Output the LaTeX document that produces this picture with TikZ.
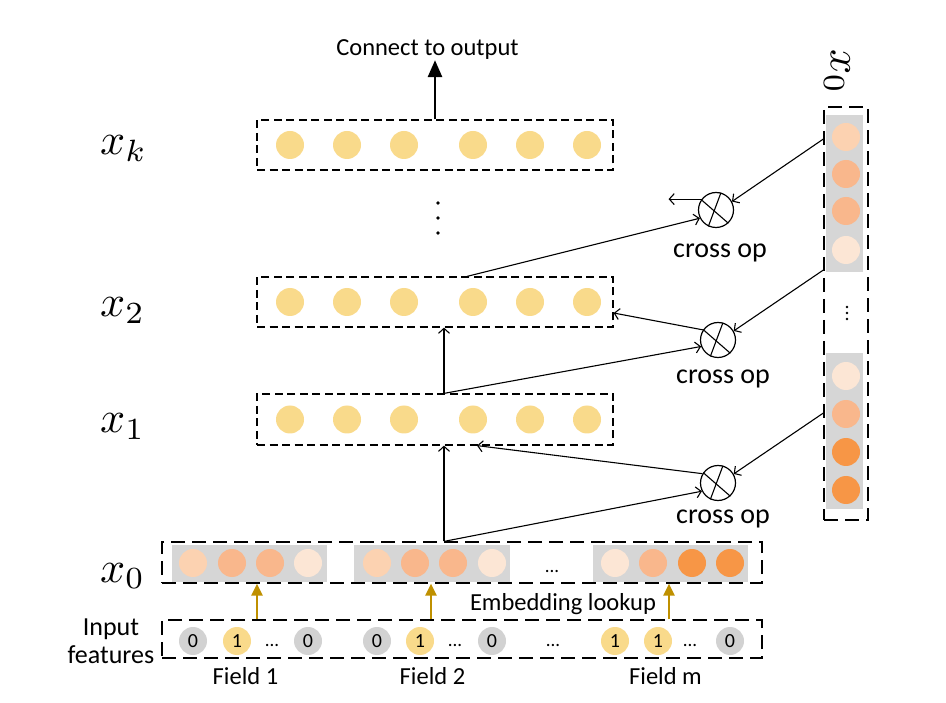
\documentclass[tikz,border=0pt]{standalone}
\usepackage[no-math]{fontspec}
\setmainfont{Carlito}
\usetikzlibrary{arrows.meta}
\definecolor{cyel}{HTML}{F9DA8B}
\definecolor{cgray}{HTML}{D6D6D6}
\definecolor{cig}{HTML}{D2D2D2}
\definecolor{ocr}{HTML}{FCE6D5}
\definecolor{opl}{HTML}{FCD2B1}
\definecolor{omd}{HTML}{F9B78C}
\definecolor{odk}{HTML}{F79646}
\definecolor{cgold}{HTML}{BF9000}
\newcommand{\bigmath}[1]{\scalebox{4.4}{$#1$}}
\begin{document}
\begin{tikzpicture}[x=1pt,y=-1pt,
  dbox/.style={draw, dash pattern=on 8pt off 4.5pt, line width=1.2pt, inner sep=0},
  dboxL/.style={draw, dash pattern=on 14pt off 7pt, line width=1.2pt, inner sep=0},
  ybub/.style={circle, fill=cyel, minimum size=28pt, inner sep=0},
  obub/.style={circle, fill=#1, minimum size=28pt, inner sep=0},
  ibub/.style={circle, fill=#1, minimum size=28pt, inner sep=0, font=\fontsize{20}{21}\selectfont},
  gbar/.style={fill=cgray, inner sep=0},
  arr/.style={line width=1.1pt, -{Straight Barb[length=5pt,width=11pt]}},
  garr/.style={cgold, line width=2.2pt, -{Triangle[length=12pt,width=11pt]}},
  txt/.style={font=\fontsize{24.5}{26}\selectfont, inner sep=0, anchor=base},
  optxt/.style={font=\fontsize{28}{30}\selectfont, inner sep=0, anchor=base},
  dig/.style={font=\fontsize{19}{20}\selectfont, inner sep=0, anchor=base},
  mlab/.style={anchor=base west, inner sep=0},
  xop/.style={circle, draw, line width=1.2pt, minimum size=35pt, inner sep=0}]
\useasboundingbox (0,0) rectangle (946,703);

% gray bars
\node[gbar, minimum width=155, minimum height=37] (r1) at (249.5,563.5) {};
\node[gbar, minimum width=156, minimum height=37] (r2) at (432,563.5) {};
\node[gbar, minimum width=155, minimum height=37] (r3) at (670.5,563.5) {};
\node[gbar, minimum width=37, minimum height=157] (g1) at (844.5,193.5) {};
\node[gbar, minimum width=37, minimum height=156] (g2) at (844.5,431) {};

% embedding circles
\foreach \x/\c [count=\i] in {193/opl,232/omd,270/omd,308/ocr,377/opl,415/omd,453/omd,492/ocr,615/ocr,653/omd,692/odk,730/odk}
  \node[obub=\c] (e\i) at (\x,563) {};
\foreach \y/\c [count=\i] in {137/opl,174/omd,211/omd,250/ocr,376/ocr,414/omd,452/odk,490/odk}
  \node[obub=\c] (v\i) at (846,\y) {};

% layer circles
\foreach \x [count=\i] in {290,347,404,473,530,587} {
  \node[ybub] (k\i) at (\x,145) {};
  \node[ybub] (t\i) at (\x,302) {};
  \node[ybub] (o\i) at (\x,419.5) {};
}

% input circles
\foreach \x/\t/\c [count=\i] in {193/0/cig,237/1/cyel,308/0/cig,377/0/cig,420/1/cyel,492/0/cig,615/1/cyel,658/1/cyel,730/0/cig}
  \node[ibub=\c] (n\i) at (\x,641) {\t};
\foreach \x [count=\i] in {272,455,553,690}
  \node[dig] (dd\i) at (\x,646) {...};
\node[dig] (dx) at (552,572) {...};

% dashed boxes
\node[dbox, minimum width=356, minimum height=50] (bk) at (435,145) {};
\node[dbox, minimum width=356, minimum height=50] (b2) at (435,302) {};
\node[dbox, minimum width=356, minimum height=51] (b1) at (435,419.5) {};
\node[dboxL, minimum width=600, minimum height=41] (b0) at (462,562.5) {};
\node[dboxL, minimum width=600, minimum height=38] (bi) at (462,639) {};
\node[dboxL, minimum width=44, minimum height=413] (rc) at (846,313.5) {};

% vertical dots
\fill (438,203) circle (1.8pt) (438,218) circle (1.8pt) (438,233) circle (1.8pt);
\fill (847,307) circle (1.3pt) (847,313) circle (1.3pt) (847,319) circle (1.3pt);

% labels
\node[mlab] (lk) at (100,155) {\bigmath{x_k}};
\node[mlab] (l2) at (100,317) {\bigmath{x_2}};
\node[mlab] (l1) at (100,433) {\bigmath{x_1}};
\node[mlab] (l0) at (100,582) {\bigmath{x_0}};
\node[rotate=-90, inner sep=0] (lr) at (837,72) {\bigmath{x_0}};

\node[txt] (out) at (427.5,56) {Connect to output};
\node[txt] (emb) at (563,610) {Embedding lookup};
\node[txt] (f1) at (245.5,684) {Field 1};
\node[txt] (f2) at (432.5,684) {Field 2};
\node[txt] (fm) at (665.5,684) {Field m};
\node[txt, font=\fontsize{26}{28}\selectfont] (in1) at (111,635) {Input};
\node[txt, font=\fontsize{26}{28}\selectfont] (in2) at (111,663) {features};

% cross ops
\node[xop] (op1) at (716,210) {};
\node[xop] (op2) at (718,340) {};
\node[xop] (op3) at (718,483) {};
\foreach \o in {op1,op2,op3} {
  \draw[line width=1.1pt] (\o.145) -- (\o.-47);
  \draw[line width=1.1pt] (\o.74) -- (\o.-115);
}
\node[optxt] (cl1) at (720,258) {cross op};
\node[optxt] (cl2) at (723,384) {cross op};
\node[optxt] (cl3) at (723,523) {cross op};

% output arrow
\draw[line width=2.8pt, -{Triangle[length=17pt,width=14pt]}] (bk.north) -- (out.south -| bk.north);

% gold arrows
\coordinate (a1) at (257,0);
\coordinate (a2) at (431,0);
\coordinate (a3) at (669,0);
\foreach \a in {a1,a2,a3}
  \draw[garr] (bi.north -| \a) -- (b0.south -| \a);

% connectors
\coordinate (cx) at (444,0);
\coordinate (cy) at (467,0);
\coordinate (cz) at (477,0);
\coordinate (ce) at (0,313);
\coordinate (q1) at (0,139);
\coordinate (q2) at (0,270);
\coordinate (q3) at (0,413);
\draw[arr] (b0.north -| cx) -- (b1.south -| cx);
\draw[arr] (b1.north -| cx) -- (b2.south -| cx);
\draw[arr] (b0.north -| cx) -- (op3.207);
\draw[arr] (b1.north -| cx) -- (op2.201);
\draw[arr] (b2.north -| cy) -- (op1.207);
\draw[arr] (op3.149) -- (b1.south -| cz);
\draw[arr] (op2.146) -- (b2.east |- ce);
\draw[arr] (op1.143) -- ++(-33,0);
\draw[arr] (rc.west |- q1) -- (op1.28);
\draw[arr] (rc.west |- q2) -- (op2.30);
\draw[arr] (rc.west |- q3) -- (op3.30);
\end{tikzpicture}
\end{document}
